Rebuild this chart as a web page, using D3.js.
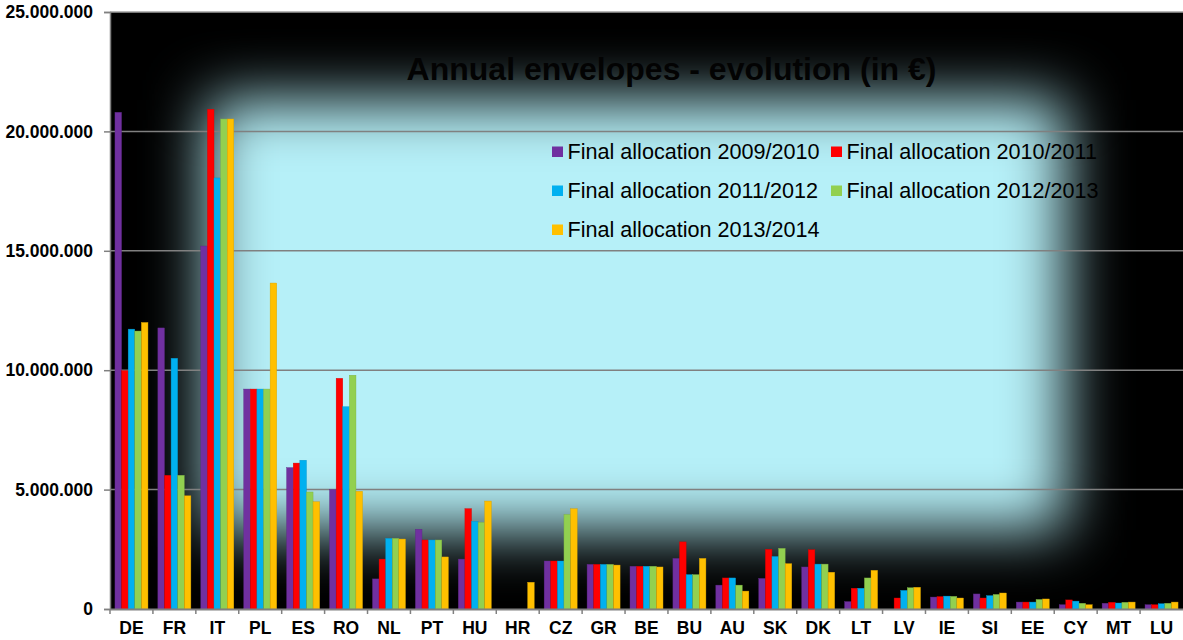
<!DOCTYPE html>
<html>
<head>
<meta charset="utf-8">
<script src="https://cdn.jsdelivr.net/npm/d3@7"></script>
<style>
  html, body { margin: 0; padding: 0; background: #fff; }
  svg { display: block; }
  text { font-family: "Liberation Sans", Arial, sans-serif; }
</style>
</head>
<body>
<svg id="chart" width="1183" height="640"></svg>
<script>
const categories = ["DE","FR","IT","PL","ES","RO","NL","PT","HU","HR","CZ","GR","BE","BU","AU","SK","DK","LT","LV","IE","SI","EE","CY","MT","LU"];
const seriesNames = ["Final allocation 2009/2010","Final allocation 2010/2011","Final allocation 2011/2012","Final allocation 2012/2013","Final allocation 2013/2014"];
const seriesColors = ["#7030a0","#ff0000","#00b0f0","#92d050","#ffc000"];

const alloc2009 = [20800000,11770000,15200000,9210000,5920000,5000000,1260000,3340000,2090000,0,2010000,1870000,1790000,2120000,1000000,1280000,1760000,310000,0,500000,630000,290000,180000,240000,180000];
const alloc2010 = [9980000,5600000,20930000,9210000,6110000,9660000,2090000,2890000,4200000,0,2010000,1870000,1790000,2810000,1300000,2500000,2480000,870000,460000,520000,460000,290000,380000,280000,180000];
const alloc2011 = [11720000,10500000,18050000,9210000,6230000,8470000,2960000,2890000,3670000,0,2010000,1870000,1790000,1440000,1300000,2200000,1880000,870000,780000,540000,560000,290000,330000,250000,220000];
const alloc2012 = [11640000,5600000,20520000,9210000,4900000,9790000,2960000,2890000,3630000,0,3960000,1870000,1790000,1440000,1000000,2540000,1880000,1300000,890000,530000,610000,400000,240000,280000,240000];
const alloc2013 = [12000000,4740000,20520000,13650000,4490000,4930000,2930000,2180000,4520000,1120000,4200000,1840000,1760000,2120000,750000,1900000,1540000,1620000,910000,460000,670000,420000,180000,290000,290000];
const seriesValues = [alloc2009, alloc2010, alloc2011, alloc2012, alloc2013];

const yTicks = [0,5000000,10000000,15000000,20000000,25000000];
const titleText = "Annual envelopes - evolution (in €)";

const svg = d3.select("#chart");
const L = 110, R = 1183, T = 12, B = 609;

const x0 = d3.scaleBand().domain(categories).range([L, R]).paddingInner(0).paddingOuter(0);
const x1 = d3.scaleBand().domain(d3.range(seriesNames.length)).range([0, x0.bandwidth()]).paddingInner(0).paddingOuter(0.75);
const y = d3.scaleLinear().domain([0, 25000000]).range([B, T]);

const defs = svg.append("defs");
defs.append("clipPath").attr("id", "plotClip")
  .append("rect").attr("x", L).attr("y", T).attr("width", R - L).attr("height", B - T);
defs.append("filter").attr("id", "glow").attr("filterUnits", "userSpaceOnUse")
  .attr("x", L - 50).attr("y", T - 50).attr("width", R - L + 100).attr("height", B - T + 100)
  .append("feGaussianBlur").attr("stdDeviation", 30);

// plot background
const bg = svg.append("g").attr("clip-path", "url(#plotClip)");
bg.append("rect").attr("x", L).attr("y", T).attr("width", R - L).attr("height", B - T).attr("fill", "#000");
bg.append("rect").attr("x", 208).attr("y", 100).attr("width", 1065 - 208).attr("height", 530 - 100)
  .attr("fill", "#b6f0f8").attr("filter", "url(#glow)");

// gridlines
svg.append("g").selectAll("line").data(yTicks.filter(d => d > 0)).join("line")
  .attr("x1", L).attr("x2", R).attr("y1", d => y(d)).attr("y2", d => y(d))
  .attr("stroke", d => d === 25000000 ? "#a0a0a0" : "#808080").attr("stroke-width", 1.5);

// title
svg.append("text").attr("x", 671.5).attr("y", 80).attr("text-anchor", "middle")
  .attr("font-size", 32).attr("font-weight", "bold").attr("fill", "#030303").text(titleText);

// bars
const groups = svg.append("g").selectAll("g").data(categories).join("g")
  .attr("transform", d => `translate(${x0(d)},0)`);
groups.selectAll("rect").data((c, i) => seriesValues.map((s, k) => ({k, v: s[i]}))).join("rect")
  .attr("x", d => x1(d.k)).attr("width", x1.bandwidth())
  .attr("y", d => y(d.v)).attr("height", d => B - y(d.v))
  .attr("fill", d => seriesColors[d.k])
  .attr("stroke", d => d.v > 0 ? d3.color(seriesColors[d.k]).darker(0.5) : "none")
  .attr("stroke-width", 0.4);

// axes
const fmt = d3.formatLocale({decimal: ",", thousands: ".", grouping: [3], currency: ["", "€"]}).format(",");
const yAxis = svg.append("g").attr("transform", `translate(${L},0)`)
  .call(d3.axisLeft(y).tickValues(yTicks).tickFormat(fmt).tickSize(6).tickPadding(11));
yAxis.select(".domain").attr("stroke", "#808080").attr("stroke-width", 1.5);
yAxis.selectAll(".tick line").attr("stroke", "#808080").attr("stroke-width", 1.5);
yAxis.selectAll(".tick text").attr("font-size", 17.5).attr("font-weight", "bold")
  .attr("fill", "#000").attr("font-family", "Liberation Sans, Arial, sans-serif");

const xAxis = svg.append("g").attr("transform", `translate(0,${B})`)
  .call(d3.axisBottom(x0).tickSize(0).tickPadding(13));
xAxis.select(".domain").attr("stroke", "#808080").attr("stroke-width", 2);
xAxis.selectAll(".tick text").attr("font-size", 17.5).attr("font-weight", "bold")
  .attr("fill", "#000").attr("font-family", "Liberation Sans, Arial, sans-serif");
// boundary ticks
svg.append("g").selectAll("line").data(categories).join("line")
  .attr("x1", d => x0(d)).attr("x2", d => x0(d)).attr("y1", B).attr("y2", B + 5)
  .attr("stroke", "#808080").attr("stroke-width", 1.5);

// legend
const legend = svg.append("g");
const legPos = [[552, 159], [831, 159], [552, 198], [831, 198], [552, 237]];
seriesNames.forEach((name, k) => {
  const [lx, ly] = legPos[k];
  legend.append("rect").attr("x", lx).attr("y", ly - 12.5).attr("width", 11).attr("height", 10.5).attr("fill", seriesColors[k]);
  legend.append("text").attr("x", lx + 15.5).attr("y", ly).attr("font-size", 21.6).attr("fill", "#000").text(name);
});
</script>
</body>
</html>
